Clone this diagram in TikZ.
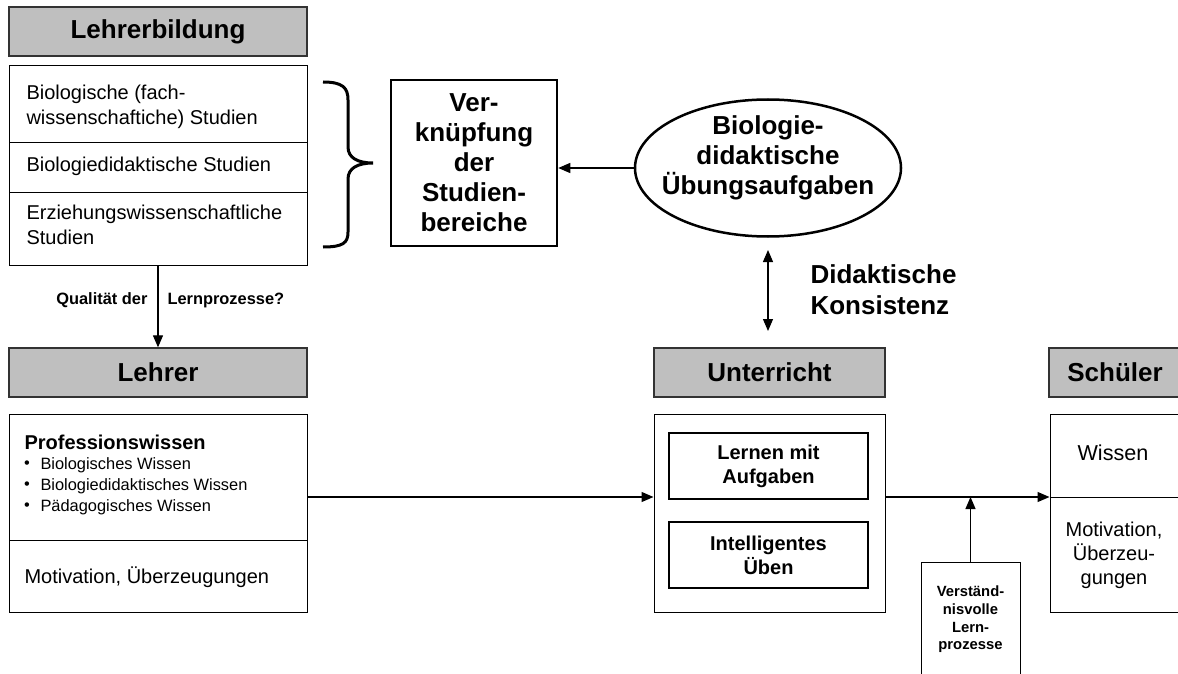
\documentclass[tikz,border=0pt]{standalone}
\usepackage{fontspec}
\setmainfont{Liberation Sans}
\usepackage{tikz}
\usetikzlibrary{arrows.meta, positioning, shapes.geometric}

\newcommand{\fnorm}{\fontsize{20}{25}\selectfont}
\newcommand{\fbig}{\fontsize{26}{30}\selectfont\bfseries}
\newcommand{\fsmall}{\fontsize{16.4}{21}\selectfont}

\begin{document}
\begin{tikzpicture}[x=1pt, y=-1pt, font=\fnorm,
    hdr/.style={draw=black!80, line width=1.3pt, fill=black!25, minimum height=49pt, inner sep=0pt, font=\fbig},
    frame/.style={draw, line width=1pt, inner sep=0pt},
    heavy/.style={draw, line width=2.5pt, inner sep=0pt},
    arr/.style={-{Triangle[length=12pt, width=10pt]}, line width=1.2pt},
    darr/.style={{Triangle[length=12pt, width=10pt]}-{Triangle[length=12pt, width=10pt]}, line width=1.2pt}]
    \useasboundingbox (0,0) rectangle (1178,674);

    % Lehrerbildung
    \node[hdr, minimum width=298pt] (hdrLB) at (158,31.5) {Lehrerbildung};
    \node[frame, minimum width=298pt, minimum height=199pt] (stud) at (158,165.5) {};
    \foreach \y in {142,192} {
        \draw (9,\y) -- (307,\y);
    }
    \node[anchor=west, align=left] (stud1) at (23,106.5) {Biologische (fach-\\wissenschaftiche) Studien};
    \node[anchor=west] (stud2) at (23,166) {Biologiedidaktische Studien};
    \node[anchor=west, align=left] (stud3) at (23,225) {Erziehungswissenschaftliche\\Studien};

    % Klammer
    \draw[line width=3pt] (323,82) .. controls (343,82) and (348,88) .. (348,100) -- (348,147)
        .. controls (348,158) and (358,163) .. (373,163)
        .. controls (358,163) and (348,168) .. (348,179) -- (348,232)
        .. controls (348,243) and (343,247) .. (323,247);

    % Verknuepfung
    \node[heavy, minimum width=166pt, minimum height=166pt, align=center, font=\fbig] (verk) at (474,163) {Ver-\\knüpfung\\der\\Studien-\\bereiche};

    % Uebungsaufgaben
    \node[heavy, ellipse, minimum width=266pt, minimum height=137pt] (ell) at (768,168) {};
    \node[align=center, font=\fbig] (ellTxt) at (768,158) {Biologie-\\didaktische\\Übungsaufgaben};
    \draw[arr] (ell.west) -- (ell.west -| verk.east);

    % Didaktische Konsistenz
    \coordinate (dkTop) at (768,250);
    \coordinate (dkBot) at (768,331);
    \draw[darr] (dkTop) -- (dkBot);
    \node[anchor=west, align=left, font=\fontsize{26}{31}\selectfont\bfseries] (dk) at (807,289.5) {Didaktische\\Konsistenz};

    % Lehrer
    \node[hdr, minimum width=298pt] (hdrL) at (158,372.5) {Lehrer};
    \draw[arr] (stud.south) -- (hdrL.north);
    \node[anchor=east, font=\fsmall\bfseries] (qual1) at (151,300) {Qualität der};
    \node[anchor=west, font=\fsmall\bfseries] (qual2) at (164,300) {Lernprozesse?};

    \node[frame, minimum width=298pt, minimum height=198pt] (lbox) at (158,513) {};
    \draw (9,540) -- (307,540);
    \node[anchor=west, font=\fnorm\bfseries] (prof) at (21,442) {Professionswissen};
    \foreach \txt [count=\i] in {Biologisches Wissen, Biologiedidaktisches Wissen, Pädagogisches Wissen} {
        \node[anchor=west, font=\fsmall] (prof\i) at (37,444+21*\i) {\txt};
        \node[font=\fsmall] (dot\i) at (27,444+21*\i) {\textbullet};
    }
    \node[anchor=west] (lmot) at (21,577) {Motivation, Überzeugungen};

    % Unterricht
    \node[hdr, minimum width=231pt] (hdrU) at (769.5,372.5) {Unterricht};
    \node[frame, minimum width=231pt, minimum height=198pt] (ubox) at (769.5,513) {};
    \node[heavy, minimum width=199pt, minimum height=66pt, align=center, font=\fontsize{20}{24}\selectfont\bfseries] (lern) at (768.5,466) {Lernen mit\\Aufgaben};
    \node[heavy, minimum width=199pt, minimum height=66pt, align=center, font=\fontsize{20}{24}\selectfont\bfseries] (ueben) at (768.5,555) {Intelligentes\\Üben};

    % Schueler
    \node[hdr, minimum width=132pt] (hdrS) at (1115,372.5) {Schüler};
    \node[frame, minimum width=130pt, minimum height=198pt] (sbox) at (1115,513) {};
    \draw (1050,497) -- (1180,497);
    \node[font=\fontsize{21.6}{26}\selectfont] (wiss) at (1113,453) {Wissen};
    \node[align=center, font=\fontsize{20}{24}\selectfont] (smot) at (1114,555) {Motivation,\\Überzeu-\\gungen};

    % Pfeile
    \coordinate (flow) at (1050,497);
    \draw[arr] (lbox.east |- flow) -- (ubox.west |- flow);
    \draw[arr] (ubox.east |- flow) -- (sbox.west |- flow);
    \node[frame, minimum width=99pt, minimum height=115pt, align=center, font=\fontsize{14.8}{17.7}\selectfont\bfseries] (vbox) at (970.5,619.5) {Verständ-\\nisvolle\\Lern-\\prozesse};
    \draw[arr] (vbox.north) -- (vbox.north |- flow);
\end{tikzpicture}
\end{document}
